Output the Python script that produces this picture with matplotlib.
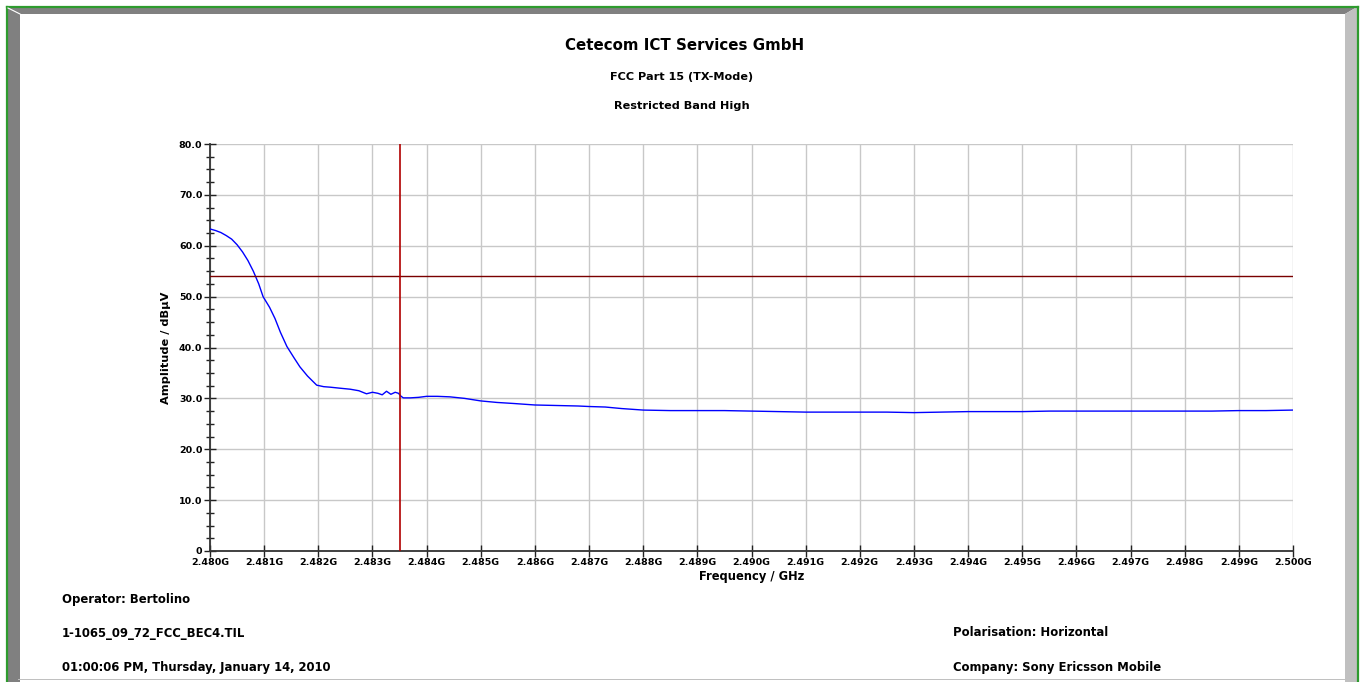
import matplotlib
matplotlib.use("Agg")
import matplotlib.pyplot as plt
from matplotlib.patches import Rectangle, Polygon
from matplotlib.ticker import MultipleLocator, FixedLocator

plt.rcParams['font.family'] = ['DejaVu Sans']

# ---- data ----
freq_ghz = [2.48000, 2.48010, 2.48020, 2.48030, 2.48040, 2.48050, 2.48060, 2.48070,
            2.48080, 2.48090, 2.48098, 2.48110, 2.48120, 2.48130, 2.48142, 2.48155,
            2.48166, 2.48180, 2.48197, 2.48210, 2.48222, 2.48240, 2.48259, 2.48275,
            2.48289, 2.48300, 2.48310, 2.48318, 2.48326, 2.48334, 2.48342, 2.48348,
            2.48353, 2.48357, 2.48370, 2.48385, 2.48400, 2.48420, 2.48443, 2.48470,
            2.48500, 2.48530, 2.48560, 2.48600, 2.48640, 2.48680, 2.48700, 2.48730,
            2.48760, 2.48800, 2.48850, 2.48900, 2.48950, 2.49000, 2.49050, 2.49100,
            2.49150, 2.49200, 2.49250, 2.49300, 2.49350, 2.49400, 2.49450, 2.49500,
            2.49550, 2.49600, 2.49650, 2.49700, 2.49750, 2.49800, 2.49850, 2.49900,
            2.49950, 2.50000]
amplitude_dbuv = [63.3, 63.0, 62.6, 62.0, 61.3, 60.2, 58.8, 57.1,
                  55.0, 52.5, 50.0, 47.9, 45.7, 43.0, 40.2, 38.0,
                  36.2, 34.4, 32.6, 32.3, 32.2, 32.0, 31.8, 31.5,
                  30.9, 31.2, 31.0, 30.7, 31.4, 30.8, 31.2, 31.0,
                  30.4, 30.1, 30.1, 30.2, 30.4, 30.4, 30.3, 30.0,
                  29.5, 29.2, 29.0, 28.7, 28.6, 28.5, 28.4, 28.3,
                  28.0, 27.7, 27.6, 27.6, 27.6, 27.5, 27.4, 27.3,
                  27.3, 27.3, 27.3, 27.2, 27.3, 27.4, 27.4, 27.4,
                  27.5, 27.5, 27.5, 27.5, 27.5, 27.5, 27.5, 27.6,
                  27.6, 27.7]
limit_dbuv = 54.0
marker_freq_ghz = 2.4835
x_ticks = [2.480 + 0.001 * i for i in range(21)]
x_tick_labels = ["%.3fG" % v for v in x_ticks]
y_ticks = [0, 10, 20, 30, 40, 50, 60, 70, 80]
y_tick_labels = ["0", "10.0", "20.0", "30.0", "40.0", "50.0", "60.0", "70.0", "80.0"]

W, H = 1369, 682
fig = plt.figure(figsize=(W / 100, H / 100), dpi=100)
fig.patch.set_facecolor('white')

def fx(px):
    return px / W

def fy(py):
    return 1 - py / H

# ---- frame (bevel) ----
bg = fig.add_axes([0, 0, 1, 1], zorder=-10)
bg.set_xlim(0, W)
bg.set_ylim(H, 0)
bg.axis('off')
bg.add_patch(Polygon([[7, 7], [20, 14], [20, H], [7, H]], closed=True, color='#808080', lw=0))
bg.add_patch(Polygon([[7, 7], [1357, 7], [1345, 14], [20, 14]], closed=True, color='#808080', lw=0))
bg.add_patch(Polygon([[1357, 7], [1357, H], [1345, H], [1345, 14]], closed=True, color='#c0c0c0', lw=0))
bg.add_patch(Rectangle((18, 678.5), 1327, 1.5, color='#c0c0c0', lw=0))
bg.plot([6.5, 6.5], [6.5, H], color='#2e9b2e', lw=1.6)
bg.plot([6.5, 1358], [6.5, 6.5], color='#2e9b2e', lw=1.6)
bg.plot([1358, 1358], [6.5, H], color='#2e9b2e', lw=1.6)
bg.plot([8, 20], [8, 14], color='white', lw=0.8)

# ---- plot area ----
L, R, T, B = 210, 1293, 144, 551
ax = fig.add_axes([fx(L), fy(B), fx(R) - fx(L), fy(T) - fy(B)])
ax.set_xlim(2.480, 2.500)
ax.set_ylim(0, 80)
ax.grid(True, color='#c8c8c8', lw=1.0)
ax.set_axisbelow(True)

ax.plot(freq_ghz, amplitude_dbuv, color='#0000ff', lw=1.0, zorder=3)
ax.axhline(limit_dbuv, color='#7a0000', lw=1.0, zorder=4)
ax.axvline(marker_freq_ghz, color='#b00000', lw=1.2, zorder=4)

ax.xaxis.set_major_locator(FixedLocator(x_ticks))
ax.set_xticklabels(x_tick_labels)
ax.yaxis.set_major_locator(FixedLocator(y_ticks))
ax.set_yticklabels(y_tick_labels)
ax.yaxis.set_minor_locator(MultipleLocator(2.5))

for s in ['top', 'right']:
    ax.spines[s].set_visible(False)
for s in ['left', 'bottom']:
    ax.spines[s].set_color('#333333')
    ax.spines[s].set_linewidth(1.3)

ax.tick_params(axis='x', which='major', direction='inout', length=8, width=1.0,
               color='#222222', labelsize=6.8, pad=1)
ax.tick_params(axis='y', which='major', direction='inout', length=9, width=1.0,
               color='#222222', labelsize=6.8, pad=1)
ax.tick_params(axis='y', which='minor', direction='inout', length=6, width=1.0,
               color='#222222')
for lab in ax.get_xticklabels() + ax.get_yticklabels():
    lab.set_fontweight('bold')

ax.set_xlabel('Frequency / GHz', fontsize=8.3, fontweight='bold', labelpad=2)
ax.set_ylabel('Amplitude / dBµV', fontsize=8.2, fontweight='bold', labelpad=6)

# ---- titles ----
fig.text(fx(685), fy(46), 'Cetecom ICT Services GmbH', ha='center', va='center',
         fontsize=10.8, fontweight='bold')
fig.text(fx(682), fy(77), 'FCC Part 15 (TX-Mode)', ha='center', va='center',
         fontsize=8.1, fontweight='bold')
fig.text(fx(682), fy(106), 'Restricted Band High', ha='center', va='center',
         fontsize=8.1, fontweight='bold')

# ---- footer ----
fs = 8.4
fig.text(fx(62), fy(599), 'Operator: Bertolino', ha='left', va='center', fontsize=fs, fontweight='bold')
fig.text(fx(62), fy(633), '1-1065_09_72_FCC_BEC4.TIL', ha='left', va='center', fontsize=fs, fontweight='bold')
fig.text(fx(62), fy(668), '01:00:06 PM, Thursday, January 14, 2010', ha='left', va='center', fontsize=fs, fontweight='bold')
fig.text(fx(953), fy(633), 'Polarisation: Horizontal', ha='left', va='center', fontsize=fs, fontweight='bold')
fig.text(fx(953), fy(668), 'Company: Sony Ericsson Mobile', ha='left', va='center', fontsize=fs, fontweight='bold')

fig.savefig('out.png', dpi=100, facecolor='white')
